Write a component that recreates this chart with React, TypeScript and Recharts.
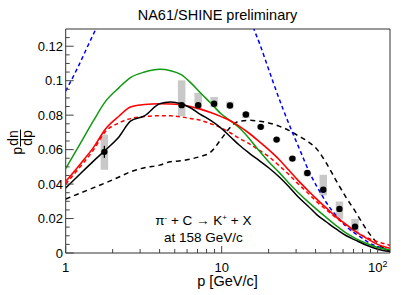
import React from "react";
import {
  ComposedChart,
  Line,
  Scatter,
  XAxis,
  YAxis,
  ErrorBar,
  ReferenceArea
} from "recharts";

const font = "Liberation Sans, Arial, Helvetica, sans-serif";

// momentum grid [GeV/c] shared by the model curves
const momentum = [1, 1.25, 1.5, 1.8, 2.2, 2.6, 3.2, 4, 4.7, 5.5, 6.3, 7.3, 8.5, 10, 11.5, 13, 15, 17.5, 20, 23.5, 27, 31, 36, 41, 47, 55, 63, 72, 85, 100, 120];

const greenModel = [0.049, 0.064, 0.0765, 0.088, 0.096, 0.1018, 0.105, 0.1066, 0.1058, 0.1035, 0.099, 0.093, 0.087, 0.0805, 0.0765, 0.0725, 0.0665, 0.059, 0.053, 0.0465, 0.0405, 0.035, 0.0295, 0.025, 0.0205, 0.0155, 0.0115, 0.0085, 0.0055, 0.0032, 0.0017];
const redModel = [0.0415, 0.052, 0.061, 0.072, 0.0795, 0.0847, 0.0862, 0.0866, 0.0865, 0.086, 0.085, 0.0835, 0.0815, 0.079, 0.0765, 0.0735, 0.0695, 0.0645, 0.06, 0.054, 0.048, 0.042, 0.036, 0.031, 0.026, 0.0205, 0.0165, 0.0125, 0.0085, 0.005, 0.0027];
const redDashedModel = [0.04, 0.0505, 0.0595, 0.0705, 0.0755, 0.078, 0.0792, 0.0797, 0.0796, 0.079, 0.078, 0.077, 0.075, 0.0725, 0.0695, 0.0665, 0.0635, 0.0595, 0.056, 0.0505, 0.0455, 0.04, 0.0345, 0.0295, 0.025, 0.02, 0.016, 0.0125, 0.009, 0.0065, 0.0045];
const blackModel = [0.0377, 0.0463, 0.0532, 0.0598, 0.0675, 0.0765, 0.0796, 0.0866, 0.0877, 0.0866, 0.0843, 0.0805, 0.077, 0.0722, 0.067, 0.0625, 0.058, 0.0535, 0.0495, 0.044, 0.0385, 0.0325, 0.027, 0.022, 0.018, 0.0135, 0.01, 0.0075, 0.0045, 0.0022, 0.0008];
const blackDashedModel = [0.0313, 0.0349, 0.0378, 0.0407, 0.0441, 0.0471, 0.0495, 0.051, 0.053, 0.0535, 0.0545, 0.056, 0.0585, 0.0665, 0.0735, 0.0765, 0.077, 0.0765, 0.0755, 0.0735, 0.0712, 0.068, 0.0645, 0.06, 0.052, 0.041, 0.032, 0.024, 0.0135, 0.0055, 0.001];

// blue dashed model leaves the frame between ~1.6 and ~16 GeV/c
const blueLowP = [1, 1.2, 1.4, 1.7];
const blueLow = [0.094, 0.108, 0.121, 0.137];
const blueHighP = [15, 16.1, 17.6, 19, 21.5, 24.8, 28.8, 32, 36.7, 41, 47.1, 55, 63, 77, 89, 105, 120];
const blueHigh = [0.139, 0.13, 0.121, 0.1124, 0.0985, 0.0833, 0.0687, 0.059, 0.0464, 0.0382, 0.029, 0.021, 0.0153, 0.0095, 0.0057, 0.003, 0.0015];

// NA61/SHINE data points
const pointP = [1.77, 5.54, 7.07, 8.94, 11.3, 14.3, 17.8, 22.5, 28.4, 35.4, 44.8, 56.9, 71.6];
const pointY = [0.0587, 0.0858, 0.0858, 0.0866, 0.0856, 0.0804, 0.0732, 0.0658, 0.0548, 0.0464, 0.0367, 0.0256, 0.0153];
const statErr = [0.0035, 0.0012, 0.001, 0.0009, 0.0009, 0.0009, 0.0009, 0.0009, 0.0009, 0.0009, 0.0012, 0.0012, 0.0012];
const sysLow = [0.0104, 0.0064, 0.0025, 0.002, 0.0017, 0.0021, 0.001, 0.001, 0.0012, 0.0019, 0.0033, 0.0058, 0.0029];
const sysHigh = [0.01, 0.0144, 0.0072, 0.0039, 0.0022, 0.0014, 0.001, 0.001, 0.0012, 0.0013, 0.0087, 0.0043, 0.0045];

const xTicks = [1, 2, 3, 4, 5, 6, 7, 8, 9, 10, 20, 30, 40, 50, 60, 70, 80, 90, 100];
const xMajor = [1, 10, 100];
const yTicks = [0, 0.005, 0.01, 0.015, 0.02, 0.025, 0.03, 0.035, 0.04, 0.045, 0.05, 0.055, 0.06, 0.065, 0.07, 0.075, 0.08, 0.085, 0.09, 0.095, 0.1, 0.105, 0.11, 0.115, 0.12, 0.125];
const yMajor = [0, 0.02, 0.04, 0.06, 0.08, 0.1, 0.12];
const yLabels = ["0", "0.02", "0.04", "0.06", "0.08", "0.1", "0.12"];

const curves = momentum.map((p, i) => ({
  p,
  green: greenModel[i],
  red: redModel[i],
  redDashed: redDashedModel[i],
  black: blackModel[i],
  blackDashed: blackDashedModel[i]
}));
const blueA = blueLowP.map((p, i) => ({ p, blue: blueLow[i] }));
const blueB = blueHighP.map((p, i) => ({ p, blue: blueHigh[i] }));
const points = pointP.map((p, i) => ({
  p,
  y: pointY[i],
  stat: statErr[i],
  sys: [sysLow[i], sysHigh[i]]
}));

const XTick = (props: any) => {
  const { x, y, payload } = props;
  const v = payload.value;
  const major = xMajor.includes(v);
  return (
    <g>
      <line x1={x} x2={x} y1={y} y2={y - (major ? 7 : 4)} stroke="#444" />
      {v === 1 || v === 10 ? (
        <text x={x} y={y + 18.5} textAnchor="middle" fontSize={13} fontFamily={font} fill="#000">
          {v}
        </text>
      ) : null}
      {v === 100 ? (
        <text x={x} y={y + 18.5} textAnchor="middle" fontSize={13} fontFamily={font} fill="#000">
          10<tspan dy={-5} fontSize={9}>2</tspan>
        </text>
      ) : null}
    </g>
  );
};

const YTick = (props: any) => {
  const { x, y, payload } = props;
  const idx = yMajor.findIndex((m) => Math.abs(m - payload.value) < 1e-9);
  const major = idx >= 0;
  return (
    <g>
      <line x1={x} x2={x + (major ? 8 : 4)} y1={y} y2={y} stroke="#444" />
      {major ? (
        <text x={x - 2.7} y={y} dy="0.36em" textAnchor="end" fontSize={13} fontFamily={font} fill="#000">
          {yLabels[idx]}
        </text>
      ) : null}
    </g>
  );
};

const Dot = (props: any) => <circle cx={props.cx} cy={props.cy} r={3.2} fill="#000" />;
const NoDot = () => <g />;

export default function App() {
  return (
    <div style={{ position: "absolute", left: 0, top: 0, width: 407, height: 295, background: "#fff" }}>
      <ComposedChart
        width={407}
        height={295}
        data={curves}
        margin={{ top: 29, right: 17, bottom: 0, left: 0 }}
      >
        <XAxis
          dataKey="p"
          type="number"
          scale="log"
          domain={[1, 120]}
          allowDataOverflow
          ticks={xTicks}
          interval={0}
          tick={<XTick />}
          tickSize={0}
          tickMargin={0}
          tickLine={false}
          axisLine={false}
          height={42}
        />
        <YAxis
          dataKey="y"
          type="number"
          domain={[0, 0.13]}
          allowDataOverflow
          ticks={yTicks}
          interval={0}
          tick={<YTick />}
          tickSize={0}
          tickMargin={0}
          tickLine={false}
          axisLine={false}
          width={65.7}
        />
        <Scatter data={points} dataKey="y" shape={<NoDot />} isAnimationActive={false} zIndex={300}>
          <ErrorBar dataKey="sys" direction="y" width={0} stroke="#c8c8c8" strokeWidth={7.5} />
        </Scatter>
        <Line dataKey="blackDashed" type="monotone" stroke="#000" strokeWidth={1.5} strokeDasharray="5 4" dot={false} isAnimationActive={false} />
        <Line data={blueA} dataKey="blue" type="monotone" stroke="#0000ff" strokeWidth={1.5} strokeDasharray="4 3" dot={false} isAnimationActive={false} />
        <Line data={blueB} dataKey="blue" type="monotone" stroke="#0000ff" strokeWidth={1.5} strokeDasharray="4 3" dot={false} isAnimationActive={false} />
        <Line dataKey="redDashed" type="monotone" stroke="#ff0000" strokeWidth={1.5} strokeDasharray="4 3" dot={false} isAnimationActive={false} />
        <Line dataKey="green" type="monotone" stroke="#109a10" strokeWidth={1.5} dot={false} isAnimationActive={false} />
        <Line dataKey="red" type="monotone" stroke="#ff0000" strokeWidth={1.6} dot={false} isAnimationActive={false} />
        <Line dataKey="black" type="monotone" stroke="#000" strokeWidth={1.5} dot={false} isAnimationActive={false} />
        <Scatter data={points} dataKey="y" shape={<Dot />} isAnimationActive={false}>
          <ErrorBar dataKey="stat" direction="y" width={0} stroke="#000" strokeWidth={1.3} />
        </Scatter>
        <ReferenceArea x1={1} x2={120} y1={0} y2={0.13} fill="none" stroke="#333" strokeWidth={1} />
      </ComposedChart>
      <svg
        width={407}
        height={295}
        style={{ position: "absolute", left: 0, top: 0, pointerEvents: "none" }}
        fontFamily={font}
      >
        <text x={217.5} y={20} textAnchor="middle" fontSize={14.5} fill="#000">
          NA61/SHINE preliminary
        </text>
        <text x={227.5} y={286} textAnchor="middle" fontSize={14.5} fill="#000">
          p [GeV/c]
        </text>
        <text x={203.3} y={224.5} textAnchor="middle" fontSize={13.5} fill="#000">
          π<tspan dy={-5} fontSize={8}>-</tspan>
          <tspan dy={5}> + C → K</tspan>
          <tspan dy={-5} fontSize={8}>+</tspan>
          <tspan dy={5}> + X</tspan>
        </text>
        <text x={203.3} y={241.5} textAnchor="middle" fontSize={13.5} fill="#000">
          at 158 GeV/c
        </text>
        <g transform="translate(20.5, 143) rotate(-90)" fontSize={14} fill="#000">
          <text x={-4} y={1.5} textAnchor="end">p</text>
          <text x={5} y={-3} textAnchor="middle">dn</text>
          <line x1={-3.5} x2={13.5} y1={0} y2={0} stroke="#000" strokeWidth={1} />
          <text x={5} y={11} textAnchor="middle">dp</text>
        </g>
      </svg>
    </div>
  );
}
